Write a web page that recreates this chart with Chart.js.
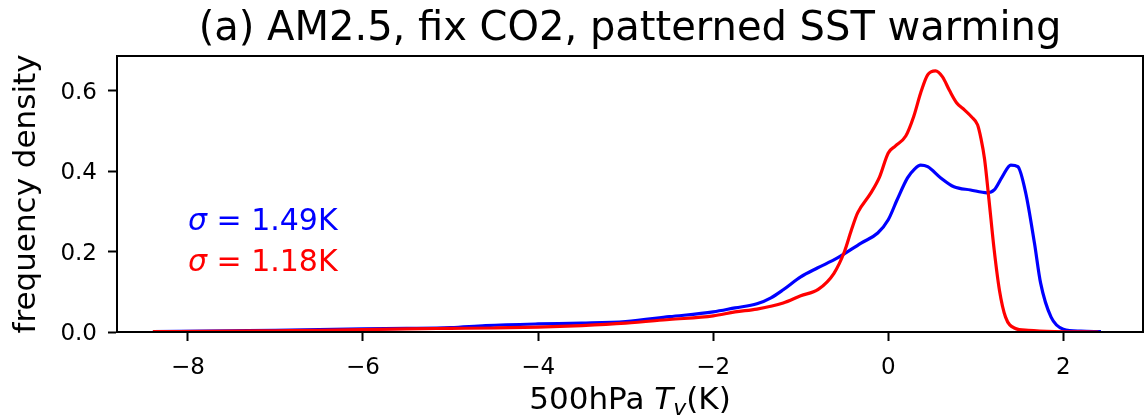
<!DOCTYPE html>
<html>
<head>
<meta charset="utf-8">
<script src="https://cdn.jsdelivr.net/npm/chart.js@4.4.1/dist/chart.umd.min.js"></script>
<style>
  html, body { margin: 0; padding: 0; background: #fff; }
</style>
</head>
<body>
<canvas id="chart" width="1144" height="417"></canvas>
<script>
// data
const redX = [-8.4, -7.5, -7, -6.5, -6, -5.5, -5, -4.5, -4, -3.5, -3, -2.5, -2, -1.75, -1.5, -1.2, -1.0, -0.8, -0.62, -0.5, -0.42, -0.35, -0.2, -0.1, 0.0, 0.08, 0.2, 0.29, 0.37, 0.45, 0.54, 0.62, 0.7, 0.78, 0.87, 0.95, 1.02, 1.06, 1.1, 1.15, 1.21, 1.27, 1.34, 1.44, 1.6, 1.9, 2.4];
const redY = [0.001, 0.002, 0.003, 0.004, 0.006, 0.008, 0.009, 0.010, 0.012, 0.016, 0.022, 0.031, 0.040, 0.050, 0.057, 0.072, 0.090, 0.106, 0.146, 0.200, 0.254, 0.296, 0.345, 0.385, 0.445, 0.462, 0.487, 0.535, 0.594, 0.639, 0.649, 0.634, 0.600, 0.570, 0.552, 0.535, 0.515, 0.480, 0.430, 0.330, 0.204, 0.104, 0.037, 0.010, 0.004, 0.001, 0.0];

const blueX = [-8.4, -7.5, -7, -6.5, -6, -5.5, -5, -4.6, -4, -3.5, -3, -2.5, -2, -1.75, -1.5, -1.34, -1.2, -1.0, -0.81, -0.58, -0.31, -0.12, 0.0, 0.1, 0.22, 0.3, 0.37, 0.45, 0.6, 0.75, 0.94, 1.13, 1.21, 1.3, 1.4, 1.48, 1.57, 1.67, 1.74, 1.86, 2.0, 2.2, 2.43];
const blueY = [0.001, 0.003, 0.004, 0.006, 0.008, 0.009, 0.011, 0.016, 0.020, 0.022, 0.026, 0.038, 0.050, 0.060, 0.070, 0.085, 0.105, 0.137, 0.159, 0.184, 0.221, 0.246, 0.279, 0.328, 0.383, 0.405, 0.415, 0.411, 0.383, 0.361, 0.353, 0.346, 0.353, 0.385, 0.415, 0.411, 0.346, 0.221, 0.122, 0.037, 0.007, 0.002, 0.001];

const xTicks = [-8, -6, -4, -2, 0, 2];
const yTicks = [0.0, 0.2, 0.4, 0.6];

const titleText = "(a) AM2.5, fix CO2, patterned SST warming";
const yLabel = "frequency density";
const sigmaLabels = [
  { value: "1.49K", color: "#0000ff", x: -8.0, y: 0.274 },
  { value: "1.18K", color: "#ff0000", x: -8.0, y: 0.172 }
];

const FONT = "'DejaVu Sans', sans-serif";

function toPoints(xs, ys) {
  return xs.map((x, i) => ({ x: x, y: ys[i] }));
}

// draws text runs of mixed styles one after the other, centred on cx
function runs(ctx, parts, cx, y) {
  let total = 0;
  for (const p of parts) { ctx.font = p.f; p.w = ctx.measureText(p.t).width; total += p.w; }
  let x = cx - total / 2;
  ctx.textAlign = "left";
  for (const p of parts) {
    ctx.font = p.f;
    ctx.fillText(p.t, x, y + (p.dy || 0));
    x += p.w;
  }
}

const extras = {
  id: "extras",
  afterDraw(chart) {
    const ctx = chart.ctx;
    const a = chart.chartArea;
    const xs = chart.scales.x, ys = chart.scales.y;
    ctx.save();
    ctx.strokeStyle = "#000";
    ctx.lineWidth = 2;
    ctx.strokeRect(a.left, a.top, a.right - a.left, a.bottom - a.top);

    ctx.fillStyle = "#000";
    ctx.textBaseline = "alphabetic";

    // title
    ctx.font = "40px " + FONT;
    ctx.textAlign = "center";
    ctx.fillText(titleText, (a.left + a.right) / 2, 40);

    // tick labels
    ctx.font = "23px " + FONT;
    for (const v of xTicks) {
      const t = v < 0 ? "\u2212" + Math.abs(v) : String(v);
      ctx.textAlign = "center";
      ctx.fillText(t, xs.getPixelForValue(v), 374);
    }
    for (const v of yTicks) {
      ctx.textAlign = "right";
      ctx.fillText(v.toFixed(1), 97, ys.getPixelForValue(v) + 8.4);
    }

    // x axis label: 500hPa T_v(K)
    runs(ctx, [
      { t: "500hPa ", f: "31px " + FONT },
      { t: "T", f: "italic 31px " + FONT },
      { t: "v", f: "italic 22px " + FONT, dy: 6 },
      { t: "(K)", f: "31px " + FONT }
    ], (a.left + a.right) / 2, 409);

    // y axis label, rotated
    ctx.save();
    ctx.translate(27, (a.top + a.bottom) / 2);
    ctx.rotate(-Math.PI / 2);
    ctx.font = "31px " + FONT;
    ctx.textAlign = "center";
    ctx.textBaseline = "middle";
    ctx.fillText(yLabel, 0, 0);
    ctx.restore();

    // sigma annotations
    ctx.textBaseline = "middle";
    ctx.textAlign = "left";
    for (const s of sigmaLabels) {
      ctx.fillStyle = s.color;
      const px = xs.getPixelForValue(s.x);
      const py = ys.getPixelForValue(s.y);
      ctx.font = "italic 30px " + FONT;
      ctx.fillText("\u03c3", px, py);
      const w = ctx.measureText("\u03c3").width;
      ctx.font = "30px " + FONT;
      ctx.fillText(" = " + s.value, px + w, py);
    }
    ctx.restore();
  }
};

new Chart(document.getElementById("chart"), {
  type: "line",
  data: {
    datasets: [
      {
        data: toPoints(redX, redY),
        borderColor: "#ff0000",
        borderWidth: 3.2,
        pointRadius: 0,
        cubicInterpolationMode: "monotone",
        fill: false
      },
      {
        data: toPoints(blueX, blueY),
        borderColor: "#0000ff",
        borderWidth: 3.2,
        pointRadius: 0,
        cubicInterpolationMode: "monotone",
        fill: false
      }
    ]
  },
  options: {
    responsive: false,
    animation: false,
    devicePixelRatio: 1,
    layout: { padding: { top: 56, right: 1, left: 0, bottom: 0 } },
    plugins: {
      legend: { display: false },
      tooltip: { enabled: false },
      title: { display: false }
    },
    scales: {
      x: {
        type: "linear",
        min: -8.81,
        max: 2.91,
        afterBuildTicks: s => { s.ticks = xTicks.map(v => ({ value: v })); },
        afterFit: s => { s.height = 85; },
        grid: { drawOnChartArea: false, drawTicks: true, tickLength: 9, tickWidth: 2, tickColor: "#000" },
        border: { display: true, color: "#000", width: 2 },
        ticks: { display: false }
      },
      y: {
        type: "linear",
        min: 0,
        max: 0.686,
        afterBuildTicks: s => { s.ticks = yTicks.map(v => ({ value: v })); },
        afterFit: s => { s.width = 117; },
        grid: { drawOnChartArea: false, drawTicks: true, tickLength: 9, tickWidth: 2, tickColor: "#000" },
        border: { display: true, color: "#000", width: 2 },
        ticks: { display: false }
      }
    }
  },
  plugins: [extras]
});
</script>
</body>
</html>
